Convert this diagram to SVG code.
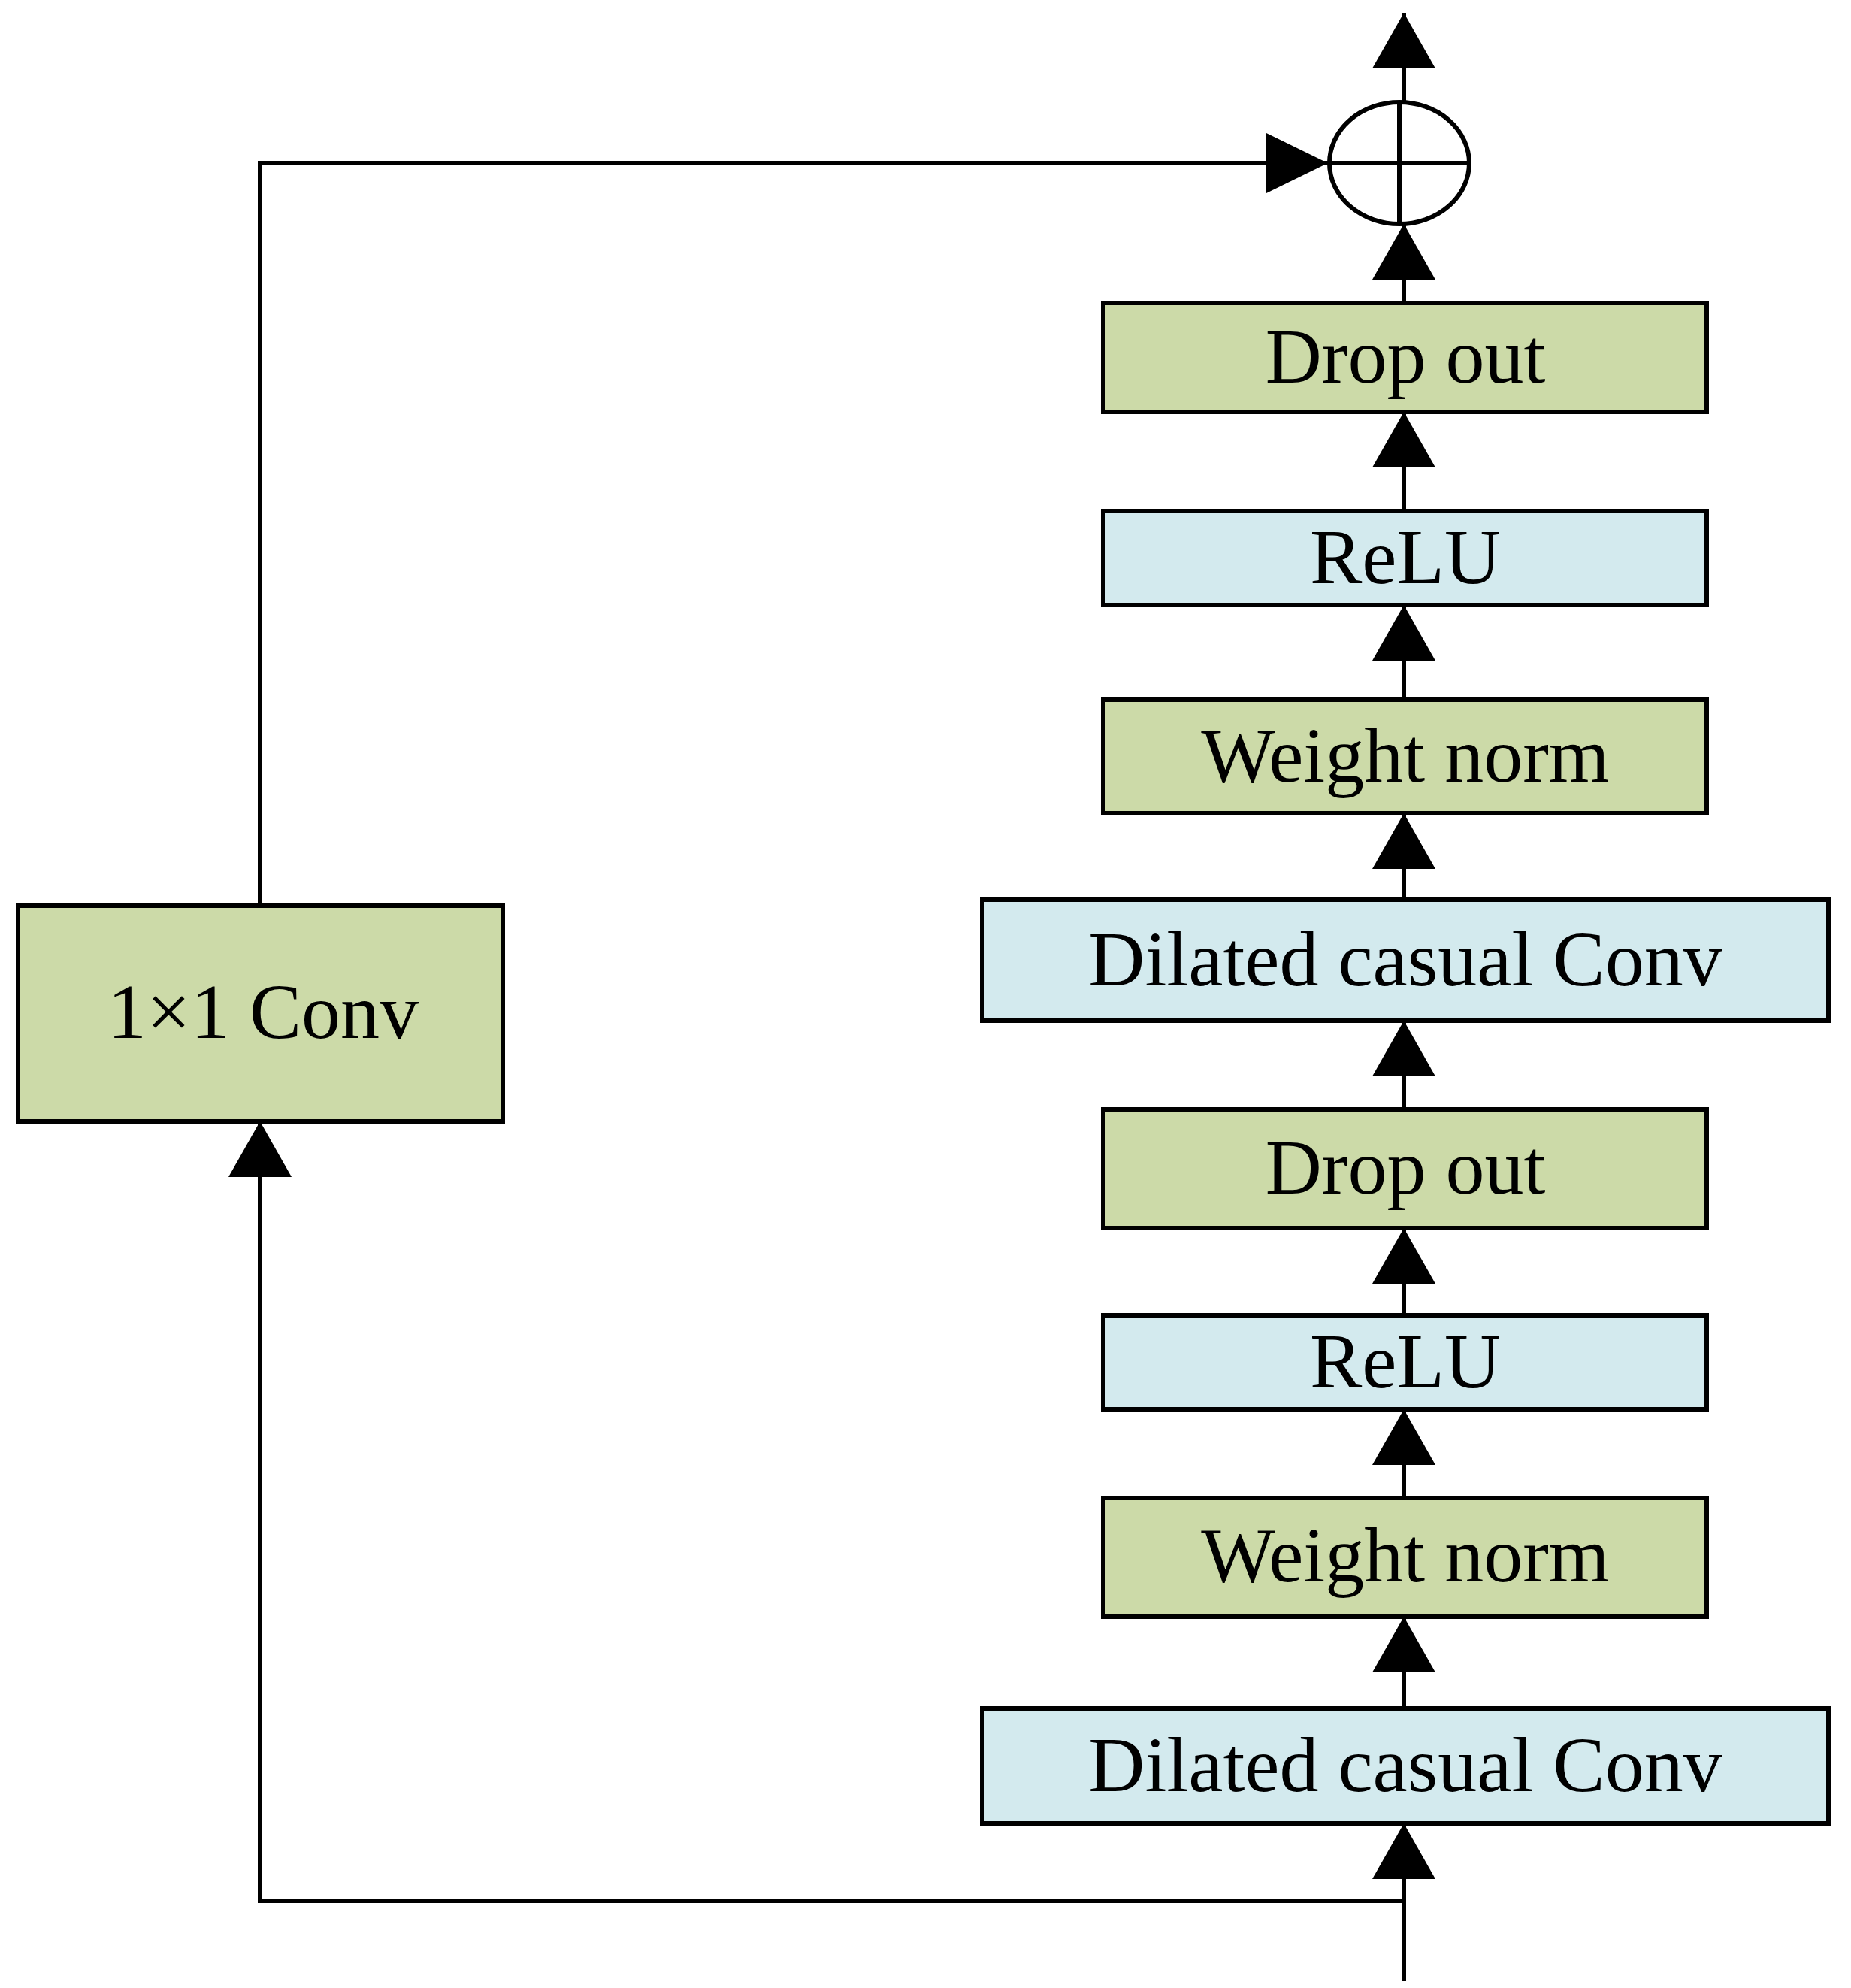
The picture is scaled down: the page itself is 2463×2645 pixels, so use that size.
<svg xmlns="http://www.w3.org/2000/svg" width="2463" height="2645" viewBox="0 0 2463 2645">
<style>
.g{fill:#ccdaa8;stroke:#000;stroke-width:6}
.b{fill:#d3eaee;stroke:#000;stroke-width:6}
.t{font-family:"Liberation Serif","Times New Roman",serif;font-size:104px;text-anchor:middle;dominant-baseline:central;fill:#000}
.l{fill:none;stroke:#000;stroke-width:6}
</style>
<rect width="2463" height="2645" fill="#fff"/>
<g id="connectors">
<path class="l" d="M1868 2636V2426M1868 2529H346V1492M346 1205V217H1767M1868 2273V2151M1868 1993V1875M1868 1750V1634M1868 1476V1358M1868 1197V1082M1868 931V805M1868 680V548M1868 403V298M1868 136V17"/>
<polygon points="1868,2426 1826,2500 1910,2500"/>
<polygon points="1868,2151 1826,2225 1910,2225"/>
<polygon points="1868,1875 1826,1949 1910,1949"/>
<polygon points="1868,1634 1826,1708 1910,1708"/>
<polygon points="1868,1358 1826,1432 1910,1432"/>
<polygon points="1868,1082 1826,1156 1910,1156"/>
<polygon points="1868,805 1826,879 1910,879"/>
<polygon points="1868,548 1826,622 1910,622"/>
<polygon points="1868,298 1826,372 1910,372"/>
<polygon points="1868,17 1826,91 1910,91"/>
<polygon points="346,1492 304,1566 388,1566"/>
<polygon points="1767,217 1685,177 1685,257"/>
</g>
<g id="sum"><ellipse cx="1862" cy="217" rx="93" ry="81" fill="#fff" stroke="#000" stroke-width="6"/><path class="l" d="M1769 217H1955M1862 136V298"/></g>
<g id="conv1x1"><rect class="g" x="24" y="1205" width="645" height="287"/><text class="t" x="350" y="1345">1×1 Conv</text></g>
<g id="dropout2"><rect class="g" x="1468" y="403" width="803" height="145"/><text class="t" x="1870" y="473">Drop out</text></g>
<g id="relu2"><rect class="b" x="1468" y="680" width="803" height="125"/><text class="t" x="1870" y="740">ReLU</text></g>
<g id="wnorm2"><rect class="g" x="1468" y="931" width="803" height="151"/><text class="t" x="1870" y="1004">Weight norm</text></g>
<g id="dconv2"><rect class="b" x="1307" y="1197" width="1126" height="161"/><text class="t" x="1870" y="1275">Dilated casual Conv</text></g>
<g id="dropout1"><rect class="g" x="1468" y="1476" width="803" height="158"/><text class="t" x="1870" y="1552">Drop out</text></g>
<g id="relu1"><rect class="b" x="1468" y="1750" width="803" height="125"/><text class="t" x="1870" y="1810">ReLU</text></g>
<g id="wnorm1"><rect class="g" x="1468" y="1993" width="803" height="158"/><text class="t" x="1870" y="2068">Weight norm</text></g>
<g id="dconv1"><rect class="b" x="1307" y="2273" width="1126" height="153"/><text class="t" x="1870" y="2347">Dilated casual Conv</text></g>
</svg>
